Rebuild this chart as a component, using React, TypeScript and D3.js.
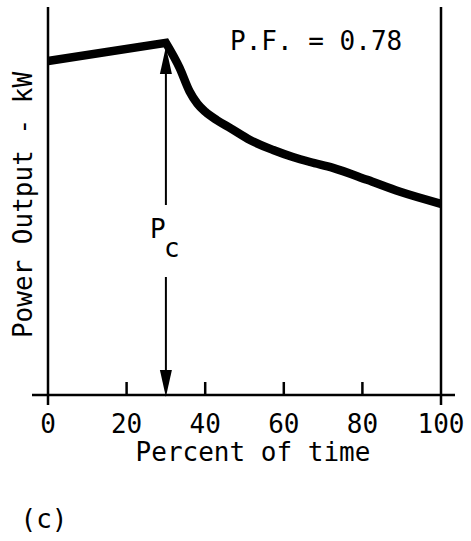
import React from "react";
import * as d3 from "d3";

// ---- data ----
const riseX = [0, 30];
const riseY = [86.3, 91.0];
const fallX = [30, 33.5, 36, 38, 40, 43, 46.5, 51.4, 57.3, 62.3, 66.7, 72.5, 81.2, 89.6, 100];
const fallY = [91.0, 84.5, 78.5, 75.3, 73.2, 71.0, 68.9, 65.9, 63.3, 61.5, 60.2, 58.7, 55.6, 52.5, 49.4];
const xTicks = [0, 20, 40, 60, 80, 100];
const xTickLabels = ["0", "20", "40", "60", "80", "100"];
const pcX = 30;
const xLabel = "Percent of time";
const yLabel = "Power Output - kW";
const pfText = "P.F. = 0.78";
const panelLabel = "(c)";

const W = 471;
const H = 541;
const FONT = "'DejaVu Sans Mono', 'Liberation Mono', monospace";

export default function App() {
  const x = d3.scaleLinear().domain([0, 100]).range([48, 441]);
  const y = d3.scaleLinear().domain([0, 100]).range([395, 8]);

  const rise = riseX.map((v, i) => [v, riseY[i]] as [number, number]);
  const fall = fallX.map((v, i) => [v, fallY[i]] as [number, number]);

  const lineLin = d3.line<[number, number]>().x(d => x(d[0])).y(d => y(d[1]));
  const lineSmooth = d3
    .line<[number, number]>()
    .x(d => x(d[0]))
    .y(d => y(d[1]))
    .curve(d3.curveMonotoneX);

  const risePath = lineLin(rise) || "";
  const fallPath = (lineSmooth(fall) || "").replace(/^M/, "L");
  const curvePath = risePath + fallPath;

  const ax = x(pcX);
  const peakY = y(riseY[1]);
  const base = y(0);

  return (
    <svg width={W} height={H} style={{ display: "block", position: "absolute", left: 0, top: 0, background: "#fff" }}>
      <rect x={0} y={0} width={W} height={H} fill="#fff" />
      {/* axes */}
      <line x1={x(0)} y1={7} x2={x(0)} y2={405} stroke="#000" strokeWidth={2.5} />
      <line x1={x(100)} y1={7} x2={x(100)} y2={405} stroke="#000" strokeWidth={2.5} />
      <line x1={32} y1={base} x2={455} y2={base} stroke="#000" strokeWidth={2.5} />
      {xTicks.slice(1, -1).map(t => (
        <line key={t} x1={x(t)} y1={base} x2={x(t)} y2={base - 13} stroke="#000" strokeWidth={2.5} />
      ))}
      {xTicks.map((t, i) => (
        <text key={t} x={x(t)} y={433} textAnchor="middle" fontFamily={FONT} fontSize={26} fill="#000">
          {xTickLabels[i]}
        </text>
      ))}
      <text x={253} y={461} textAnchor="middle" fontFamily={FONT} fontSize={26} fill="#000">
        {xLabel}
      </text>
      <text
        transform={`translate(32,205) rotate(-90)`}
        textAnchor="middle"
        fontFamily={FONT}
        fontSize={26}
        fill="#000"
      >
        {yLabel}
      </text>
      <text x={230} y={50} fontFamily={FONT} fontSize={26} fill="#000">
        {pfText}
      </text>
      <text x={44} y={528} textAnchor="middle" fontFamily={FONT} fontSize={26} fill="#000">
        {panelLabel}
      </text>

      {/* Pc arrow */}
      <line x1={ax} y1={72} x2={ax} y2={205} stroke="#000" strokeWidth={2} />
      <line x1={ax} y1={277} x2={ax} y2={372} stroke="#000" strokeWidth={2} />
      <path d={`M${ax},${peakY + 4} L${ax - 6},${74} L${ax + 6},${74} Z`} fill="#000" />
      <path d={`M${ax - 6},${370} L${ax + 6},${370} L${ax},${base + 2} Z`} fill="#000" />
      <text x={150} y={238} fontFamily={FONT} fontSize={26} fill="#000">
        P
      </text>
      <text x={164} y={257} fontFamily={FONT} fontSize={26} fill="#000">
        c
      </text>

      {/* curve */}
      <path d={curvePath} fill="none" stroke="#000" strokeWidth={8.5} strokeLinejoin="miter" strokeLinecap="butt" />
    </svg>
  );
}
